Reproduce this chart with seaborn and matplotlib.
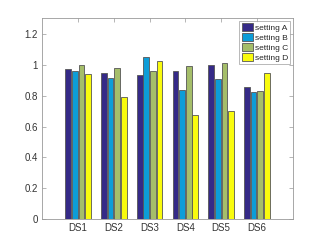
import numpy as np
import pandas as pd
import matplotlib
matplotlib.use("Agg")
import matplotlib.pyplot as plt
import seaborn as sns

datasets = ["DS1", "DS2", "DS3", "DS4", "DS5", "DS6"]
settings = ["setting A", "setting B", "setting C", "setting D"]
setting_a = [0.972, 0.944, 0.935, 0.959, 0.996, 0.854]
setting_b = [0.957, 0.916, 1.052, 0.839, 0.905, 0.826]
setting_c = [0.998, 0.978, 0.957, 0.991, 1.013, 0.832]
setting_d = [0.938, 0.791, 1.026, 0.677, 0.699, 0.944]
yticks = [0, 0.2, 0.4, 0.6, 0.8, 1, 1.2]
ytick_labels = ["0", "0.2", "0.4", "0.6", "0.8", "1", "1.2"]

colors = ["#352a87", "#0d9dd8", "#a5be6a", "#f9fb0e"]

# long format for seaborn
df = pd.DataFrame({
    "dataset": datasets * 4,
    "setting": np.repeat(settings, len(datasets)),
    "value": setting_a + setting_b + setting_c + setting_d,
})

sns.set_style("white")
plt.rcParams["font.family"] = ["Liberation Sans", "DejaVu Sans"]

fig = plt.figure(figsize=(3.24, 2.47), dpi=100)
ax = fig.add_axes([42.3 / 324, 1 - 219.3 / 247, (292.7 - 42.3) / 324, (219.3 - 18.3) / 247])

sns.barplot(data=df, x="dataset", y="value", hue="setting", order=datasets,
            hue_order=settings, palette=colors, width=0.74, gap=0.15,
            edgecolor="#555555", linewidth=0.6, saturation=1, ax=ax)

ax.set_xlim(-1, 6)
ax.set_ylim(0, 1.3)
ax.set_yticks(yticks)
ax.set_yticklabels(ytick_labels)
ax.set_xlabel("")
ax.set_ylabel("")

for side in ["top", "bottom", "left", "right"]:
    ax.spines[side].set_visible(True)
    ax.spines[side].set_color("#999999")
    ax.spines[side].set_linewidth(0.6)
ax.tick_params(direction="in", length=3, width=0.5, color="#999999",
               labelsize=7, labelcolor="#333333", top=True, right=True,
               bottom=True, left=True, pad=3)

leg = ax.legend(loc="upper right", fontsize=6, frameon=True, fancybox=False,
                handlelength=1.4, handleheight=1.1, handletextpad=0.2,
                borderpad=0.25, labelspacing=0.15, borderaxespad=0.3)
leg.get_frame().set_edgecolor("#999999")
leg.get_frame().set_linewidth(0.6)

fig.savefig("out.png", dpi=100)
